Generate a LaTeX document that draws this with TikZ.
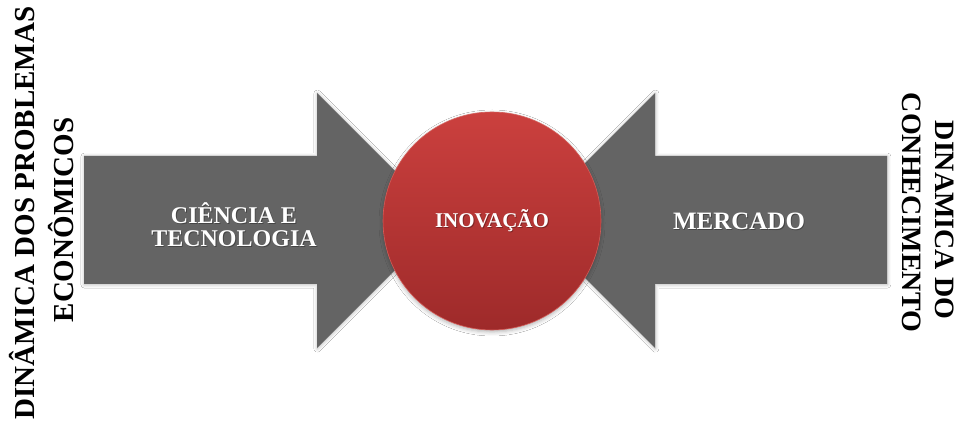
\documentclass[tikz,border=0pt]{standalone}
\usepackage{fontspec}
\setmainfont{Liberation Serif}
\usetikzlibrary{shadows.blur}
\definecolor{arrowgray}{RGB}{100,100,100}
\definecolor{redtop}{RGB}{203,64,62}
\definecolor{redbot}{RGB}{158,42,42}
\definecolor{redrim}{RGB}{212,92,88}
\begin{document}
\begin{tikzpicture}[x=1pt,y=1pt,
  bigarrow/.style={fill=arrowgray,
    blur shadow={shadow xshift=0.4pt, shadow yshift=-0.6pt,
                 shadow blur radius=3.5pt, shadow opacity=30}},
  hub/.style={circle, inner sep=0pt, minimum size=218pt,
    top color=redtop, bottom color=redbot, draw=redrim, line width=0.6pt,
    blur shadow={shadow xshift=0pt, shadow yshift=-2pt,
                 shadow blur radius=4pt, shadow opacity=30}},
  inlabel/.style={text=white, align=center, inner sep=0pt},
  inshadow/.style={text=black, text opacity=0.3, align=center, inner sep=0pt},
  sidelabel/.style={text=black, font=\bfseries\fontsize{29}{29}\selectfont, inner sep=0pt}]
\useasboundingbox (0,0) rectangle (957,423);
\fill[white] (0,0) rectangle (957,423);

% the two opposing arrows
\path[bigarrow] (84,267) -- (317,267) -- (317,330) -- (444.5,202.5)
  -- (317,75) -- (317,139) -- (84,139) -- cycle;
\path[bigarrow] (887,267) -- (655,267) -- (655,330) -- (527.5,202.5)
  -- (655,75) -- (655,139) -- (887,139) -- cycle;

% central circle
\node[hub] (inov) at (492,202) {};

% labels inside the shapes (with a soft dark offset copy underneath)
\node[inshadow, font=\bfseries\fontsize{21}{21}\selectfont] (inovS) at (492.9,201.1) {INOVAÇÃO};
\node[inlabel, font=\bfseries\fontsize{21}{21}\selectfont] (inovT) at (492,202) {INOVAÇÃO};

\node[inshadow, font=\bfseries\fontsize{24}{23}\selectfont] (ctS) at (234.9,197.1) {CIÊNCIA E\\TECNOLOGIA};
\node[inlabel, font=\bfseries\fontsize{24}{23}\selectfont] (ctT) at (234,198) {CIÊNCIA E\\TECNOLOGIA};

\node[inshadow, font=\bfseries\fontsize{25}{25}\selectfont] (mkS) at (739.9,200.6) {MERCADO};
\node[inlabel, font=\bfseries\fontsize{25}{25}\selectfont] (mkT) at (739,201.5) {MERCADO};

% vertical side captions
\node[sidelabel, rotate=90] (dynA) at (22,210) {DINÂMICA DOS PROBLEMAS};
\node[sidelabel, rotate=90] (dynB) at (61,203) {ECONÔMICOS};
\node[sidelabel, rotate=-90, font=\bfseries\fontsize{28}{28}\selectfont] (knA) at (945,203) {DINAMICA DO};
\node[sidelabel, rotate=-90, font=\bfseries\fontsize{28}{28}\selectfont] (knB) at (912,210.5) {CONHECIMENTO};
\end{tikzpicture}
\end{document}
